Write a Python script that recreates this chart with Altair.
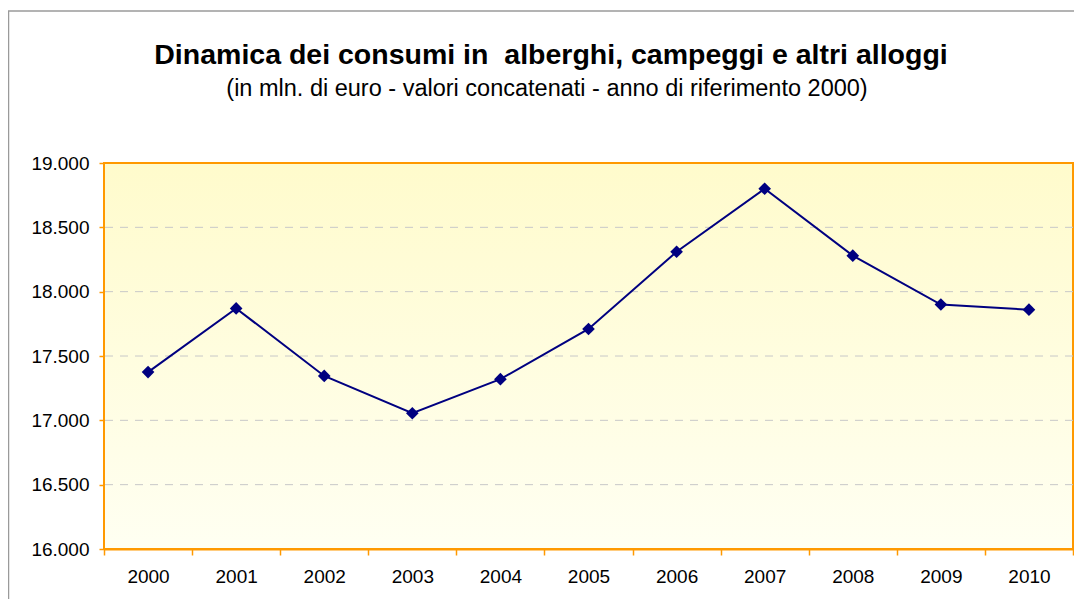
import altair as alt
import pandas as pd

years = ["2000", "2001", "2002", "2003", "2004", "2005", "2006", "2007", "2008", "2009", "2010"]
values = [17375, 17870, 17345, 17055, 17320, 17710, 18310, 18800, 18280, 17900, 17860]
y_ticks = [16000, 16500, 17000, 17500, 18000, 18500, 19000]
grid_values = [16500, 17000, 17500, 18000, 18500]

title_text = "Dinamica dei consumi in \u00a0alberghi, campeggi e altri alloggi"
subtitle_text = "(in mln. di euro - valori concatenati - anno di riferimento 2000)"

W, H = 969, 386
FONT = "Liberation Sans"
ORANGE = "#FF9900"
NAVY = "#000080"
FRAME = "#9A9A9A"

df = pd.DataFrame({"anno": years, "valore": values})
grid_df = pd.DataFrame({"valore": grid_values})
one = alt.Data(values=[{"a": 1}])

yscale = alt.Scale(domain=[16000, 19000], nice=False, zero=False)
xscale = alt.Scale(type="band", paddingInner=0, paddingOuter=0)

y_axis = alt.Axis(
    title=None, values=y_ticks, grid=False,
    labelExpr="replace(format(datum.value, ','), ',', '.')",
    domainColor=ORANGE, domainWidth=2, tickColor=ORANGE, tickSize=5,
    tickWidth=1.5, labelFontSize=19, labelFont=FONT, labelColor="#000000",
    labelPadding=10,
)

bg = alt.Chart(one).mark_rect(
    fill=alt.Gradient(
        gradient="linear",
        stops=[alt.GradientStop(color="#FFFBCC", offset=0),
               alt.GradientStop(color="#FFFFF2", offset=1)],
        x1=0, x2=0, y1=0, y2=1,
    ),
    stroke=ORANGE,
    strokeWidth=2,
).encode(x=alt.value(0), x2=alt.value(W), y=alt.value(0), y2=alt.value(H))

frame_left = alt.Chart(one).mark_rule(color=FRAME, strokeWidth=1.5).encode(
    x=alt.value(-95.5), y=alt.value(-152), y2=alt.value(H + 100)
)
frame_top = alt.Chart(one).mark_rule(color=FRAME, strokeWidth=1.5).encode(
    y=alt.value(-152), x=alt.value(-96), x2=alt.value(W + 20)
)

grid = alt.Chart(grid_df).mark_rule(
    color="#C8C8C8", strokeWidth=1, strokeDash=[8, 7]
).encode(y=alt.Y("valore:Q", scale=yscale, axis=y_axis))

base = alt.Chart(df).encode(
    x=alt.X(
        "anno:O",
        scale=xscale,
        bandPosition=0.5,
        sort=years,
        axis=alt.Axis(
            title=None, labelAngle=0, tickBand="extent", grid=False,
            domainColor=ORANGE, domainWidth=2, tickColor=ORANGE, tickSize=6,
            tickWidth=1.5, labelFontSize=19, labelFont=FONT, labelColor="#000000",
            labelPadding=12,
        ),
    ),
    y=alt.Y("valore:Q", scale=yscale, axis=y_axis),
)

line = base.mark_line(color=NAVY, strokeWidth=2)
pts = base.mark_point(shape="diamond", filled=True, size=160, color=NAVY, opacity=1)

title = alt.Chart(one).mark_text(
    font=FONT, fontSize=28.5, fontWeight="bold", color="#000000",
    align="center", baseline="alphabetic",
).encode(x=alt.value(447), y=alt.value(-98.7), text=alt.value(title_text))

subtitle = alt.Chart(one).mark_text(
    font=FONT, fontSize=23.5, color="#000000",
    align="center", baseline="alphabetic",
).encode(x=alt.value(443), y=alt.value(-67), text=alt.value(subtitle_text))

chart = alt.layer(frame_left, frame_top, bg, grid, line, pts, title, subtitle).properties(
    width=W, height=H,
    autosize=alt.AutoSizeParams(type="none"),
    padding={"left": 96, "top": 155, "right": 1, "bottom": 50},
).configure_view(stroke=None)

chart.save("out.html", embed_options={"renderer": "svg", "actions": False})
